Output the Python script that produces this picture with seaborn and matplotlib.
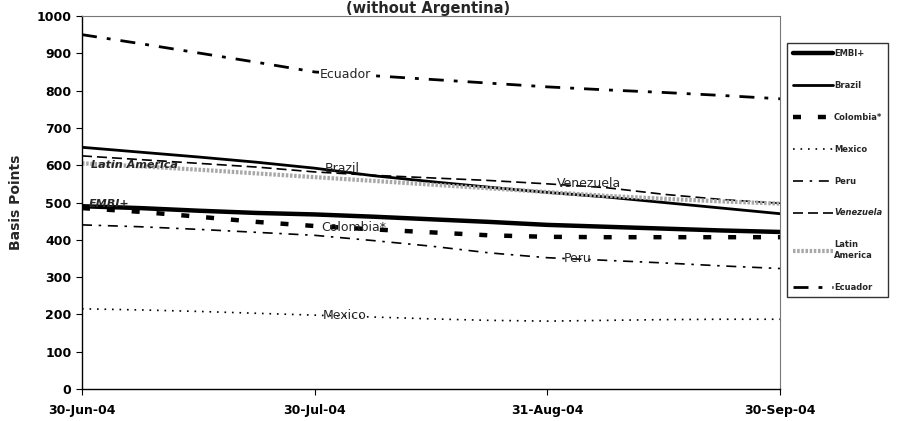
import matplotlib
matplotlib.use("Agg")
import matplotlib.pyplot as plt
import seaborn as sns
import pandas as pd

# ---- data ----
t = [0, 0.25, 0.5, 0.75, 1, 1.25, 1.5, 1.75, 2, 2.25, 2.5, 2.75, 3]
tick_pos = [0, 1, 2, 3]
tick_labels = ["30-Jun-04", "30-Jul-04", "31-Aug-04", "30-Sep-04"]

embi = [490, 485, 478, 472, 468, 462, 455, 448, 440, 435, 430, 425, 421]
brazil = [648, 635, 622, 608, 592, 572, 556, 541, 527, 515, 500, 485, 470]
colombia = [485, 475, 462, 448, 437, 428, 420, 412, 408, 407, 407, 407, 407]
mexico = [215, 212, 208, 203, 198, 193, 188, 184, 182, 184, 186, 187, 187]
peru = [440, 435, 428, 420, 412, 398, 383, 365, 352, 345, 338, 330, 323]
venezuela = [625, 615, 605, 595, 582, 573, 566, 559, 550, 540, 522, 508, 498]
latam = [605, 597, 588, 578, 568, 558, 548, 538, 528, 518, 510, 503, 497]
ecuador = [950, 926, 901, 876, 850, 840, 830, 820, 810, 802, 795, 787, 778]

series_names = ["EMBI+", "Brazil", "Colombia*", "Mexico", "Peru", "Venezuela",
                "Latin\nAmerica", "Ecuador"]
series_vals = [embi, brazil, colombia, mexico, peru, venezuela, latam, ecuador]

styles = {
    "EMBI+": dict(color="black", lw=3.2, ls="-"),
    "Brazil": dict(color="black", lw=2.0, ls="-"),
    "Colombia*": dict(color="black", lw=3.2, ls=(0, (1.8, 3.8))),
    "Mexico": dict(color="black", lw=1.2, ls=(0, (1, 3.5))),
    "Peru": dict(color="black", lw=1.2, ls=(0, (6, 4, 1.5, 4))),
    "Venezuela": dict(color="black", lw=1.2, ls=(0, (6, 3))),
    "Latin\nAmerica": dict(color="#a8a8a8", lw=3.0, ls=(0, (0.6, 0.4))),
    "Ecuador": dict(color="black", lw=2.0, ls=(0, (5.4, 3.6, 1.4, 3.6))),
}

sns.set_style("ticks")
plt.rcParams["font.family"] = ["DejaVu Sans"]

fig = plt.figure(figsize=(9, 4.21), dpi=100)
ax = fig.add_axes([82 / 900, 1 - 389 / 421, (780 - 82) / 900, (389 - 16) / 421])

handles = []
for name, vals in zip(series_names, series_vals):
    df = pd.DataFrame({"t": t, "v": vals})
    st = styles[name]
    sns.lineplot(data=df, x="t", y="v", ax=ax, color=st["color"], linewidth=st["lw"],
                 linestyle=st["ls"], legend=False)
    handles.append(ax.lines[-1])

ax.set_xlim(0, 3)
ax.set_ylim(0, 1000)
ax.set_yticks(range(0, 1001, 100))
ax.set_xticks(tick_pos)
ax.set_xticklabels(tick_labels)
ax.tick_params(axis="both", labelsize=9, length=4, width=0.8, colors="black")
ax.tick_params(axis="x", pad=7)
for lab in ax.get_xticklabels() + ax.get_yticklabels():
    lab.set_fontweight("bold")
ax.set_xlabel("")
ax.set_ylabel("Basis Points", fontsize=10, fontweight="bold", labelpad=10)

for side in ["top", "right"]:
    ax.spines[side].set_linestyle((0, (1, 1)))
    ax.spines[side].set_color("#777777")
    ax.spines[side].set_linewidth(0.8)
for side in ["left", "bottom"]:
    ax.spines[side].set_color("black")
    ax.spines[side].set_linewidth(1.0)

# in-plot labels
ann_fs = 9
ax.text(1.13, 842, "Ecuador", fontsize=ann_fs, ha="center", va="center",
        bbox=dict(facecolor="white", edgecolor="none", pad=0.5))
ax.text(1.12, 592, "Brazil", fontsize=ann_fs, ha="center", va="center")
ax.text(0.04, 600, "Latin America", fontsize=8, ha="left", va="center",
        style="italic", fontweight="bold")
ax.text(0.03, 495, "EMBI+", fontsize=8, ha="left", va="center",
        style="italic", fontweight="bold")
ax.text(1.17, 432, "Colombia*", fontsize=ann_fs, ha="center", va="center")
ax.text(2.18, 550, "Venezuela", fontsize=ann_fs, ha="center", va="center")
ax.text(2.13, 351, "Peru", fontsize=ann_fs, ha="center", va="center")
ax.text(1.13, 198, "Mexico", fontsize=ann_fs, ha="center", va="center")

# title (at the very top edge, as in the reference)
fig.text(428 / 900, 1 - 0.5 / 421, "(without Argentina)", fontsize=10.5,
         fontweight="bold", ha="center", va="top")

leg = fig.legend(handles, series_names, loc="upper left",
                 bbox_to_anchor=(787 / 900, 1 - 43 / 421),
                 prop=dict(size=6, weight="bold"), frameon=True, fancybox=False,
                 edgecolor="black", labelspacing=2.75, handlelength=4.8,
                 handletextpad=0.15, borderpad=0.7, borderaxespad=0)
leg.get_frame().set_linewidth(1.0)
for txt in leg.get_texts():
    if txt.get_text() == "Venezuela":
        txt.set_style("italic")

fig.savefig("out.png", dpi=100)
